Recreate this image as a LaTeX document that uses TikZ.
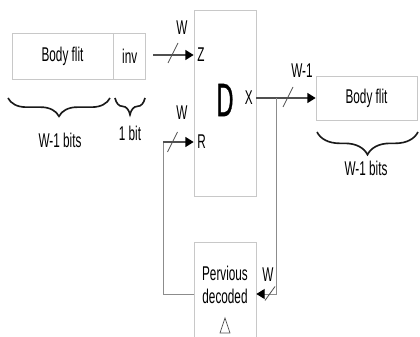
\documentclass[tikz,border=0pt]{standalone}
\usepackage{fontspec}
\setmainfont[FakeStretch=0.59]{Liberation Sans}
\newfontfamily\bigletter[FakeStretch=0.5, FakeBold=0.7]{Liberation Sans}
\usetikzlibrary{arrows.meta, positioning, decorations.pathreplacing}
\definecolor{flitgray}{RGB}{200,200,200}
\definecolor{busgray}{RGB}{80,80,80}
\definecolor{wiregray}{RGB}{140,140,140}

\begin{document}
\begin{tikzpicture}[
    x=0.03cm, y=0.03cm,
    every node/.style={font=\fontsize{17}{20}\selectfont},
    flitbox/.style={rectangle, draw=flitgray, line width=0.6pt, inner sep=0pt},
    port/.style={inner sep=3pt},
    busarrow/.style={-{Triangle[length=0.25cm, width=0.3cm, color=black]}, draw=busgray, line width=1.2pt},
    wire/.style={draw=wiregray, line width=0.8pt},
    slashmark/.style={draw=busgray, line width=0.7pt},
    bitbrace/.style={decorate, decoration={brace, mirror, amplitude=#1}, draw=black!90, line width=1.4pt}
]
\useasboundingbox (0,0) rectangle (420,337);
\clip (0,0) rectangle (420,337);

% incoming flit
\node[flitbox, minimum width=3.03cm, minimum height=1.38cm] (bodyin) at (62.5,281) {Body flit};
\node[flitbox, minimum width=0.96cm, minimum height=1.38cm, right=0pt of bodyin] (inv) {inv};

\draw[bitbrace=0.55cm] (8,239) -- (110,239);
\draw[bitbrace=0.5cm] (115,239) -- (145,239);
\node (bodybits) at (60,197) {W-1 bits};
\node (invbits) at (130,204) {1 bit};

% decoder
\node[flitbox, minimum width=1.86cm, minimum height=5.58cm] (dec) at (225,234) {};
\node[font=\bigletter\fontsize{40}{40}\selectfont] (dletter) at (225,237) {D};

% previous decoded flit
\node[flitbox, minimum width=1.86cm, minimum height=2.94cm] (prev) at (225,46) {};
\node[align=center] (prevtext) at (225,52) {Pervious\\decoded};
\draw[busgray, line width=0.6pt] (220,4) -- (230,4) -- (225,19) -- cycle;

% outgoing flit
\node[flitbox, minimum width=3.03cm, minimum height=1.32cm] (outbody) at (366.5,239) {Body flit};
\draw[bitbrace=0.68cm] (317,205) -- (418,205);
\node (outbits) at (366,169) {W-1 bits};

% Z input
\coordinate (zin) at (153,282);
\draw[busarrow] (zin) -- (dec.west |- zin);
\node[port, anchor=west] (zport) at (dec.west |- zin) {Z};
\draw[slashmark] (173,284) ++(-5,-10) -- ++(10,20);
\node (zwidth) at (182,309) {W};

% R input from previous decoded
\coordinate (fbl) at (163,43);
\coordinate (rturn) at (163,195);
\draw[wire] (prev.west |- fbl) -- (fbl) -- (rturn);
\draw[busarrow] (rturn) -- (dec.west |- rturn);
\node[port, anchor=west] (rport) at (dec.west |- rturn) {R};
\draw[slashmark] (172.5,195) ++(-5,-10) -- ++(10,20);
\node (rwidth) at (182,224) {W};

% X output
\draw[busarrow] (dec.east |- outbody) -- (outbody.west);
\node[port, anchor=east] (xport) at (dec.east |- outbody) {X};
\draw[slashmark] (288,240) ++(-5,-10) -- ++(10,20);
\node (xwidth) at (302,266) {W-1};

% feedback to previous decoded
\coordinate (tap) at (276,239);
\coordinate (fbr) at (276,43);
\draw[wire, -{Triangle[length=0.25cm, width=0.3cm, color=black]}] (tap) -- (fbr) -- (prev.east |- fbr);
\draw[slashmark] (270,43.5) ++(-5,-7) -- ++(10,14);
\node (fbwidth) at (268,62) {W};

\end{tikzpicture}
\end{document}
